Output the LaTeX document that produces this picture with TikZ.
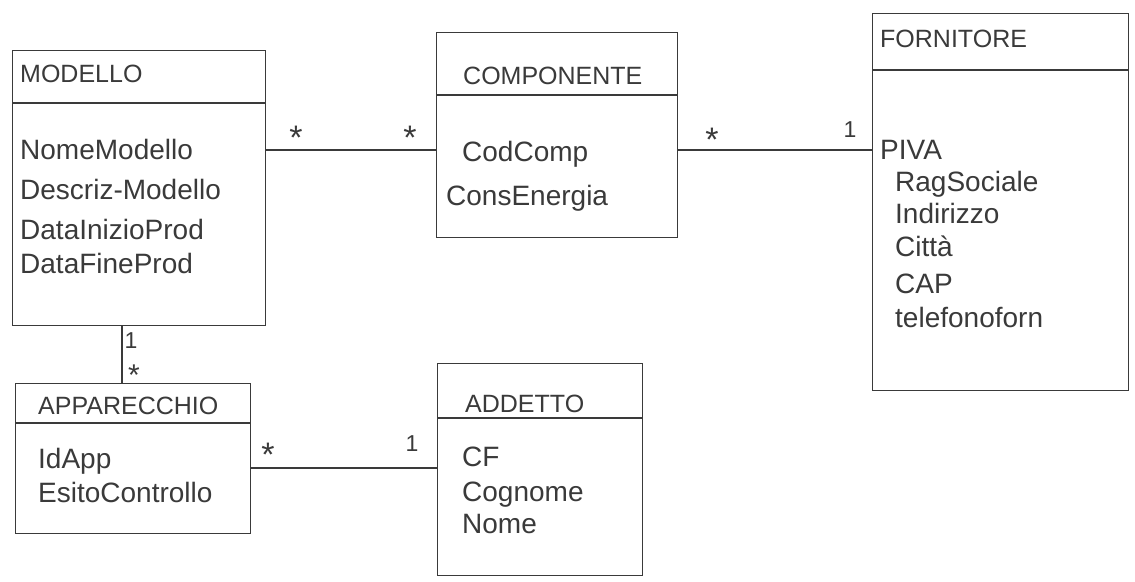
\documentclass[tikz,border=0pt]{standalone}
\usepackage{fontspec}
\setmainfont{Liberation Sans}
\definecolor{ink}{HTML}{3A3A3A}
\begin{document}
\begin{tikzpicture}[x=1pt,y=-1pt,
  classbox/.style={draw=ink, line width=1.3pt, inner sep=0pt, anchor=north west},
  sepline/.style={draw=ink, line width=1.3pt},
  assoc/.style={draw=ink, line width=1.2pt},
  title/.style={text=ink, font=\fontsize{25}{29}\selectfont, inner sep=0pt, anchor=base west},
  attr/.style={text=ink, font=\fontsize{28}{32}\selectfont, inner sep=0pt, anchor=base west},
  mult/.style={text=ink, font=\fontsize{23}{27}\selectfont, inner sep=1pt},
  star/.style={text=ink, font=\fontsize{34}{38}\selectfont, inner sep=1pt}]
\useasboundingbox[fill=white] (0,0) rectangle (1135,581);

% MODELLO
\node[classbox, minimum width=253pt, minimum height=275pt] (modello) at (12,50) {};
\draw[sepline] (modello.west |- 0,103) -- (modello.east |- 0,103);
\node[title] (modT) at (20,82) {MODELLO};
\node[attr] (nm) at (20,159) {NomeModello};
\node[attr] (dm) at (20,199) {Descriz-Modello};
\node[attr] (dip) at (20,239) {DataInizioProd};
\node[attr] (dfp) at (20,273) {DataFineProd};

% COMPONENTE
\node[classbox, minimum width=241pt, minimum height=205pt] (comp) at (436,32) {};
\draw[sepline] (comp.west |- 0,95) -- (comp.east |- 0,95);
\node[title] (compT) at (463,84) {COMPONENTE};
\node[attr] (cc) at (462,161) {CodComp};
\node[attr] (ce) at (446,205) {ConsEnergia};

% FORNITORE
\node[classbox, minimum width=256pt, minimum height=377pt] (forn) at (872,13) {};
\draw[sepline] (forn.west |- 0,70) -- (forn.east |- 0,70);
\node[title] (fornT) at (880,47) {FORNITORE};
\node[attr] (piva) at (880,159) {PIVA};
\node[attr] (rs) at (895,191) {RagSociale};
\node[attr] (ind) at (895,223) {Indirizzo};
\node[attr] (cit) at (895,256) {Città};
\node[attr] (cap) at (895,293) {CAP};
\node[attr] (tel) at (895,327) {telefonoforn};

% APPARECCHIO
\node[classbox, minimum width=235pt, minimum height=150pt] (app) at (15,383) {};
\draw[sepline] (app.west |- 0,423) -- (app.east |- 0,423);
\node[title] (appT) at (38,414) {APPARECCHIO};
\node[attr] (ida) at (38,468) {IdApp};
\node[attr] (esc) at (38,502) {EsitoControllo};

% ADDETTO
\node[classbox, minimum width=205pt, minimum height=212pt] (add) at (437,363) {};
\draw[sepline] (add.west |- 0,418) -- (add.east |- 0,418);
\node[title] (addT) at (465,412) {ADDETTO};
\node[attr] (cf) at (462,466) {CF};
\node[attr] (cog) at (462,501) {Cognome};
\node[attr] (nom) at (462,533) {Nome};

% associations
\coordinate (a1) at (0,150);
\draw[assoc] (modello.east |- a1) -- (comp.west |- a1);
\node[star] (m1a) at (296,138) {*};
\node[star] (m1b) at (410,138) {*};

\draw[assoc] (comp.east |- a1) -- (forn.west |- a1);
\node[star] (m2a) at (712,140) {*};
\node[mult] (m2b) at (850,130) {1};

\coordinate (a3) at (122,0);
\draw[assoc] (modello.south -| a3) -- (app.north -| a3);
\node[mult] (m3a) at (131,341) {1};
\node[star, font=\fontsize{30}{34}\selectfont, inner sep=0pt, anchor=base] (m3b) at (134,385) {*};

\coordinate (a4) at (0,468);
\draw[assoc] (app.east |- a4) -- (add.west |- a4);
\node[star] (m4a) at (268,455) {*};
\node[mult] (m4b) at (412,444) {1};
\end{tikzpicture}
\end{document}
